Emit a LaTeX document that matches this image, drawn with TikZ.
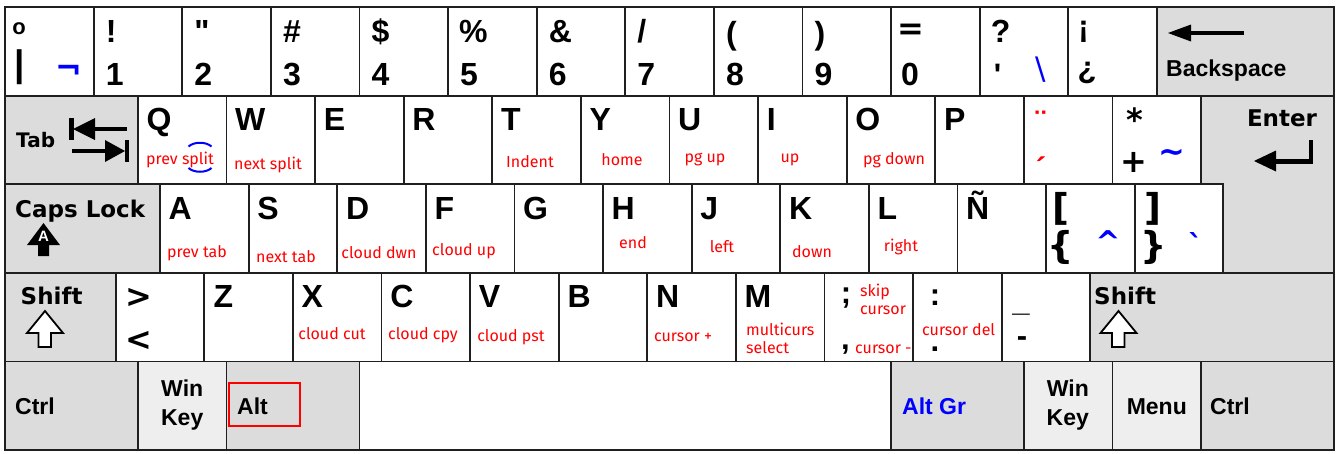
\documentclass[tikz,border=0pt]{standalone}
\usepackage{fontspec}
\setmainfont{Liberation Sans}
\newfontfamily\rawf{Liberation Sans}
\newfontfamily\djv{DejaVu Sans}
\newfontfamily\lblf{Fira Sans}
\definecolor{keygray}{HTML}{DCDCDC}
\definecolor{keylight}{HTML}{EEEEEE}
\definecolor{lblred}{HTML}{FF0000}
\definecolor{altblue}{HTML}{0000FF}
\tikzset{
  keyline/.style={draw=black!88, line width=1.8pt},
  glyph/.style={inner sep=0pt, anchor=base west, font=\fontsize{32}{32}\selectfont\bfseries},
  sym/.style={inner sep=0pt, anchor=center, font=\djv\bfseries\fontsize{32}{32}\selectfont},
  asym/.style={inner sep=0pt, anchor=center, font=\bfseries\fontsize{31}{31}\selectfont},
  tiny/.style={inner sep=0pt, anchor=base, text height=6pt, text depth=0pt, font=\bfseries\fontsize{31}{31}\selectfont},
  lab/.style={inner sep=0pt, anchor=base, text=lblred, font=\lblf\fontsize{16}{16}\selectfont},
  labw/.style={lab, anchor=base west},
  modd/.style={inner sep=0pt, anchor=base west, font=\djv\bfseries\fontsize{23}{23}\selectfont},
  moda/.style={inner sep=0pt, anchor=base west, font=\bfseries\fontsize{23}{23}\selectfont},
  modc/.style={moda, anchor=base},
  glyphshape/.style={fill=black, draw=none},
  outlinearrow/.style={draw=black, fill=white, line width=1.8pt, line join=miter},
}
\begin{document}
\begin{tikzpicture}[x=1pt,y=-1pt]
\useasboundingbox[fill=white] (0,0) rectangle (1337,453);
% ---------- row 1
\foreach \i in {0,...,12} \draw[keyline, fill=white] ({5+88.6*\i},7) rectangle ++(88.6,88.6);
\draw[keyline, fill=keygray] (1156.8,7) rectangle (1334,95.6);
% ---------- row 2
\draw[keyline, fill=keygray] (5,95.6) rectangle ++(132.9,88.6);
\foreach \i in {0,...,11} \draw[keyline, fill=white] ({137.9+88.6*\i},95.6) rectangle ++(88.6,88.6);
\draw[keyline, fill=keygray] (1201.1,95.6) -- (1334,95.6) -- (1334,272.8) -- (1223.25,272.8) -- (1223.25,184.2) -- (1201.1,184.2) -- cycle;
% ---------- row 3
\draw[keyline, fill=keygray] (5,184.2) rectangle ++(155.05,88.6);
\foreach \i in {0,...,11} \draw[keyline, fill=white] ({160.05+88.6*\i},184.2) rectangle ++(88.6,88.6);
% ---------- row 4
\draw[keyline, fill=keygray] (5,272.8) rectangle ++(110.75,88.6);
\foreach \i in {0,...,10} \draw[keyline, fill=white] ({115.75+88.6*\i},272.8) rectangle ++(88.6,88.6);
\draw[keyline, fill=keygray] (1090.35,272.8) rectangle (1334,361.4);
% ---------- row 5
\draw[keyline, fill=keygray] (5,361.4) rectangle ++(132.9,88.6);
\draw[keyline, fill=keylight] (137.9,361.4) rectangle ++(88.6,88.6);
\draw[keyline, fill=keygray] (226.5,361.4) rectangle ++(132.9,88.6);
\draw[keyline, fill=white] (359.4,361.4) rectangle ++(531.6,88.6);
\draw[keyline, fill=keygray] (891,361.4) rectangle ++(132.9,88.6);
\draw[keyline, fill=keylight] (1023.9,361.4) rectangle ++(88.6,88.6);
\draw[keyline, fill=keylight] (1112.5,361.4) rectangle ++(88.6,88.6);
\draw[keyline, fill=keygray] (1201.1,361.4) rectangle (1334,450);

% ================= row 1 texts
\node[asym, font=\bfseries\fontsize{22}{22}\selectfont] (ord) at (19,29) {o};
\node[asym, font=\bfseries\fontsize{37}{37}\selectfont] (bar) at (19.5,67.5) {|};
\node[sym, text=altblue] (neg) at (69,72) {¬};
\node[glyph] (s1) at (105.6,42) {!};   \node[glyph] (n1) at (105.6,85) {1};
\node[glyph, font=\rawf\bfseries\fontsize{32}{32}\selectfont] (s2) at (194.2,42) {"};   \node[glyph] (n2) at (194.2,85) {2};
\node[glyph] (s3) at (282.8,42) {\#};  \node[glyph] (n3) at (282.8,85) {3};
\node[glyph] (s4) at (371.4,42) {\$};  \node[glyph] (n4) at (371.4,85) {4};
\node[glyph] (s5) at (459,42) {\%};    \node[glyph] (n5) at (460,85) {5};
\node[glyph] (s6) at (548.6,42) {\&};  \node[glyph] (n6) at (548.6,85) {6};
\node[glyph] (s7) at (637.2,42) {/};   \node[glyph] (n7) at (637.2,85) {7};
\node[glyph] (s8) at (725.8,44) {(};   \node[glyph] (n8) at (725.8,85) {8};
\node[glyph] (s9) at (814.4,44) {)};   \node[glyph] (n9) at (814.4,85) {9};
\node[sym] (s0) at (911,32) {=};       \node[glyph] (n0) at (901,85) {0};
\node[glyph] (sq) at (990.6,42) {?};
\node[asym, font=\rawf\bfseries\fontsize{31}{31}\selectfont] (apo) at (997.5,74.5) {'};
\node[inner sep=0pt, text=altblue, font=\djv\fontsize{31}{31}\selectfont] (bsl) at (1040.5,70) {\textbackslash};
\node[asym] (iex) at (1083.5,31.5) {¡};
\node[asym] (iqu) at (1087,72.5) {¿};
\fill[glyphshape] (1168,33) -- (1191,24.5) -- (1191,41.5) -- cycle;
\fill[glyphshape] (1189,31) rectangle (1244,35);
\node[moda] (bksp) at (1166,76) {Backspace};

% ================= row 2 texts
\node[inner sep=0pt, anchor=base west, font=\djv\bfseries\fontsize{20}{20}\selectfont] (tab) at (16,147) {Tab};
\fill[glyphshape] (69,118) rectangle (73.5,140);
\fill[glyphshape] (73,129) -- (95,118) -- (95,140) -- cycle;
\fill[glyphshape] (94,126.7) rectangle (127,131.3);
\fill[glyphshape] (72,148.7) rectangle (106,153.3);
\fill[glyphshape] (105,140) -- (105,162) -- (125,151) -- cycle;
\fill[glyphshape] (124.5,140) rectangle (129,162);
\node[glyph] (kQ) at (146.4,130.6) {Q};
\node[glyph] (kW) at (235,130.6) {W};
\node[glyph] (kE) at (323.6,130.6) {E};
\node[glyph] (kR) at (412.2,130.6) {R};
\node[glyph] (kT) at (500.8,130.6) {T};
\node[glyph] (kY) at (589.4,130.6) {Y};
\node[glyph] (kU) at (678,130.6) {U};
\node[glyph] (kI) at (766.6,130.6) {I};
\node[glyph] (kO) at (855.2,130.6) {O};
\node[glyph] (kP) at (943.8,130.6) {P};
\node[lab] (lQ) at (180,164) {prev split};
\draw[altblue, line width=2pt] (188.5,146.5) .. controls (194,141.5) and (206,141.5) .. (211.5,146.5);
\draw[altblue, line width=2pt] (188.5,168) .. controls (194,173) and (206,173) .. (211.5,168);
\node[lab] (lW) at (268,169) {next split};
\node[lab] (lT) at (530,167) {Indent};
\node[lab] (lY) at (622,165) {home};
\node[lab] (lU) at (705,162) {pg up};
\node[lab] (lI) at (790,162) {up};
\node[lab] (lO) at (894,164.5) {pg down};
\node[asym, text=lblred] (diae) at (1040.5,121.5) {¨};
\node[asym, text=lblred] (acut) at (1041,168.5) {´};
\node[sym] (ast) at (1134.5,119.5) {*};
\node[sym] (plus) at (1133.5,162.5) {+};
\node[sym, text=altblue] (tild) at (1172,156) {\char"007E};
\node[inner sep=0pt, anchor=center, font=\djv\bfseries\fontsize{23}{23}\selectfont] (enter) at (1282,118.5) {Enter};
\fill[glyphshape] (1254,161) -- (1276,150.5) -- (1276,171.5) -- cycle;
\fill[glyphshape] (1274,158.5) rectangle (1313,163.5);
\fill[glyphshape] (1308.5,140) rectangle (1313,163.5);

% ================= row 3 texts
\node[modd] (caps) at (15,217) {Caps Lock};
\fill[glyphshape] (43.5,223) -- (60,245) -- (49,245) -- (49,256) -- (38,256) -- (38,245) -- (27,245) -- cycle;
\node[inner sep=0pt, text=white, font=\bfseries\fontsize{15}{15}\selectfont] (capsA) at (43.5,236.5) {A};
\node[glyph] (kA) at (168.5,219.2) {A};
\node[glyph] (kS) at (257.2,219.2) {S};
\node[glyph] (kD) at (345.8,219.2) {D};
\node[glyph] (kF) at (434.4,219.2) {F};
\node[glyph] (kG) at (523,219.2) {G};
\node[glyph] (kH) at (611.5,219.2) {H};
\node[glyph] (kJ) at (700.2,219.2) {J};
\node[glyph] (kK) at (788.8,219.2) {K};
\node[glyph] (kL) at (877.4,219.2) {L};
\node[glyph] (kN) at (966,219.2) {Ñ};
\node[lab] (lA) at (197,257) {prev tab};
\node[lab] (lS) at (286,262.5) {next tab};
\node[lab] (lD) at (379,258) {cloud dwn};
\node[lab] (lF) at (464,255) {cloud up};
\node[lab] (lH) at (633,248) {end};
\node[lab] (lJ) at (722,252) {left};
\node[lab] (lK) at (812,257) {down};
\node[lab] (lL) at (901,251.5) {right};
\node[sym, font=\djv\bfseries\fontsize{37}{37}\selectfont] (lbr) at (1061,208.5) {[};
\node[sym, font=\djv\bfseries\fontsize{37}{37}\selectfont] (lcb) at (1060.5,247.5) {\{};
\node[sym, text=altblue, font=\djv\bfseries\fontsize{30}{30}\selectfont] (circ) at (1108,242) {\char"005E};
\node[sym, font=\djv\bfseries\fontsize{37}{37}\selectfont] (rbr) at (1152.5,208.5) {]};
\node[sym, font=\djv\bfseries\fontsize{37}{37}\selectfont] (rcb) at (1154,247.5) {\}};
\node[sym, text=altblue, font=\djv\bfseries\fontsize{30}{30}\selectfont] (grav) at (1195.5,244) {\char"0060};

% ================= row 4 texts
\node[modd] (lsh) at (20.5,304) {Shift};
\draw[outlinearrow] (45,311) -- (63,333) -- (51,333) -- (51,347) -- (38.5,347) -- (38.5,333) -- (27,333) -- cycle;
\node[sym] (gt) at (138.5,297.5) {>};
\node[sym] (lt) at (138.5,341) {<};
\node[glyph] (kZ) at (213.4,307.8) {Z};
\node[glyph] (kX) at (301.5,307.8) {X};
\node[glyph] (kC) at (390.1,307.8) {C};
\node[glyph] (kV) at (478.7,307.8) {V};
\node[glyph] (kB) at (567.3,307.8) {B};
\node[glyph] (kNn) at (655.9,307.8) {N};
\node[glyph] (kM) at (744.5,307.8) {M};
\node[lab] (lX) at (332,339) {cloud cut};
\node[lab] (lC) at (423,339) {cloud cpy};
\node[lab] (lV) at (511,341.5) {cloud pst};
\node[lab] (lN) at (683,341) {cursor +};
\node[labw] (lM1) at (746,335.7) {multicurs};
\node[labw] (lM2) at (746,353) {select};
\node[asym] (semi) at (846,298) {;};
\node[labw] (lsk1) at (860,296) {skip};
\node[labw] (lsk2) at (860,314) {cursor};
\node[asym] (comma) at (845.5,349.5) {,};
\node[labw] (lcm) at (855,353) {cursor -};
\node[tiny, text height=18pt] (colon) at (935,305) {:};
\node[labw] (lcd) at (922,335) {cursor del};
\node[tiny] (dot) at (935,351.5) {.};
\node[asym] (unds) at (1021,313.5) {\_};
\node[asym] (hyph) at (1022,342) {-};
\node[modd] (rsh) at (1094,304) {Shift};
\draw[outlinearrow] (1118.5,311) -- (1136.5,333) -- (1124.5,333) -- (1124.5,347) -- (1112,347) -- (1112,333) -- (1100.5,333) -- cycle;

% ================= row 5 texts
\node[moda] (lctrl) at (15,414) {Ctrl};
\node[modc] (lwin1) at (182.2,396) {Win};
\node[modc] (lwin2) at (182.2,425) {Key};
\node[moda] (alt) at (237,414) {Alt};
\draw[lblred, line width=1.3pt] (229,383) rectangle (300,426);
\node[moda, text=altblue] (altgr) at (902,414) {Alt Gr};
\node[modc] (rwin1) at (1067.8,396) {Win};
\node[modc] (rwin2) at (1067.8,425) {Key};
\node[modc] (menu) at (1156.8,414) {Menu};
\node[moda] (rctrl) at (1210,414) {Ctrl};
\end{tikzpicture}
\end{document}
